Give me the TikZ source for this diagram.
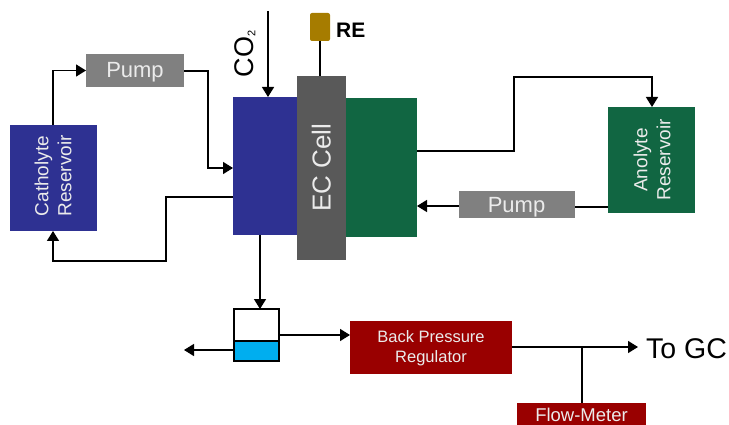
\documentclass[tikz,border=0pt]{standalone}
\usepackage{fontspec}
\setmainfont{Liberation Sans}
\usetikzlibrary{arrows.meta}
\definecolor{bluebox}{HTML}{2E3192}
\definecolor{greenbox}{HTML}{116642}
\definecolor{pumpgray}{HTML}{808080}
\definecolor{cellgray}{HTML}{595959}
\definecolor{redbox}{HTML}{990000}
\definecolor{goldbox}{HTML}{A67C00}
\definecolor{waterblue}{HTML}{00AEEF}
\tikzset{
 x=1pt,y=-1pt,
 box/.style={anchor=north west,inner sep=0pt,outer sep=0pt},
 lighttext/.style={text=white!92!black,inner sep=0pt},
 restext/.style={lighttext,rotate=90,align=center,font=\fontsize{19}{23}\selectfont},
 pumptext/.style={lighttext,anchor=base,font=\fontsize{22}{24}\selectfont},
 flow/.style={draw=black,line width=1.4pt,-{Triangle[length=10pt,width=12pt]}},
 plainline/.style={draw=black,line width=1.4pt},
}
\begin{document}
\begin{tikzpicture}
\useasboundingbox (0,0) rectangle (729,425);
% boxes
\node[box,fill=bluebox,minimum width=87pt,minimum height=106pt] (cath) at (10,125) {};
\node[restext] (cathtxt) at (53,176) {Catholyte\\Reservoir};
\node[box,fill=pumpgray,minimum width=98pt,minimum height=33pt] (pumpa) at (86,54) {};
\node[pumptext] (pumpatxt) at (135,78) {Pump};
\node[box,fill=bluebox,minimum width=65pt,minimum height=138pt] (cathode) at (233,97) {};
\node[box,fill=greenbox,minimum width=71pt,minimum height=139pt] (anode) at (346,98) {};
\node[box,fill=cellgray,draw=black!65,line width=.8pt,minimum width=48.5pt,minimum height=183pt] (cell) at (297,76) {};
\node[rotate=90,lighttext,font=\fontsize{26}{28}\selectfont] (celltxt) at (cell.center) {EC Cell};
\node[box,fill=goldbox,rounded corners=2pt,minimum width=20pt,minimum height=28pt] (re) at (310,13) {};
\node[anchor=west,inner sep=0pt,font=\bfseries\fontsize{21}{22}\selectfont] (retxt) at (336,30) {RE};
\node[rotate=90,anchor=center,inner sep=0pt,font=\fontsize{27}{28}\selectfont] (co2) at (245,54) {CO\raisebox{-2pt}{\fontsize{11}{11}\selectfont 2}};
\node[box,fill=greenbox,minimum width=87pt,minimum height=106pt] (anol) at (608,107) {};
\node[restext] (anoltxt) at (652,160) {Anolyte\\Reservoir};
\node[box,fill=pumpgray,minimum width=116pt,minimum height=27pt] (pumpb) at (459,191) {};
\node[pumptext] (pumpbtxt) at (516.5,212) {Pump};
\node[box,fill=redbox,minimum width=162pt,minimum height=53pt] (bpr) at (350,321) {};
\node[lighttext,align=center,font=\fontsize{16.5}{20}\selectfont] (bprtxt) at (431,348) {Back Pressure\\Regulator};
\node[box,fill=redbox,minimum width=129pt,minimum height=22pt] (fm) at (517,403) {};
\node[lighttext,anchor=base,font=\fontsize{18.5}{20}\selectfont] (fmtxt) at (581.5,421) {Flow-Meter};
% separator
\node[box,draw=black,line width=2pt,fill=white,minimum width=45pt,minimum height=52pt] (sep) at (234,309) {};
\node[box,draw=black,line width=2.5pt,fill=waterblue,minimum width=45pt,minimum height=20pt] (water) at (234,341) {};
\node[anchor=west,inner sep=0pt,font=\fontsize{28.5}{30}\selectfont] (gc) at (646,349) {To GC};
% free ends
\coordinate (co2top) at (268,11);
\coordinate (waste) at (184,350);
\coordinate (gcend) at (638,347);
\coordinate (junc) at (582,347);
% connectors
\draw[flow] (cath.north -| 53,0) |- (pumpa.west);
\draw[flow] (pumpa.east |- 0,71) -- (208,71) |- (cathode.west |- 0,168);
\draw[flow] (cathode.west |- 0,197) -- (166,197) -- (166,261) -- (53,261) -- (53,231);
\draw[flow] (co2top) -- (268,97);
\draw[plainline] (re.south) -- (cell.north -| re.south);
\draw[flow] (anode.east |- 0,151) -- (514,151) -- (514,77) -- (652,77) -- (652,107);
\draw[plainline] (anol.west |- 0,207) -- (pumpb.east |- 0,207);
\draw[flow] (pumpb.west |- 0,206) -- (anode.east |- 0,206);
\draw[flow] (260,235) -- (260,309);
\draw[flow] (sep.east |- 0,335) -- (bpr.west |- 0,335);
\draw[flow] (water.west |- 0,350) -- (waste);
\draw[flow] (bpr.east |- 0,347) -- (gcend);
\draw[plainline] (junc) -- (fm.north -| junc);
\end{tikzpicture}
\end{document}
